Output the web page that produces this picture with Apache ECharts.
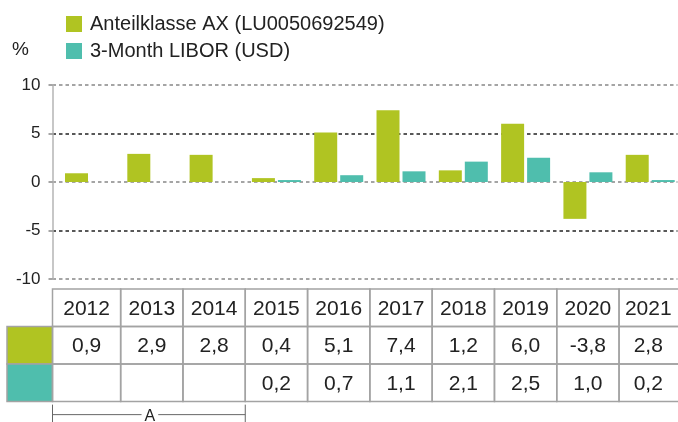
<!DOCTYPE html>
<html>
<head>
<meta charset="utf-8">
<script src="https://cdn.jsdelivr.net/npm/echarts@6/dist/echarts.min.js"></script>
<style>
html,body{margin:0;padding:0;background:#fff;}
#chart{width:678px;height:422px;}
</style>
</head>
<body>
<div id="chart"></div>
<script>
// ---- data ----
const years = ['2012','2013','2014','2015','2016','2017','2018','2019','2020','2021'];
const fundValues = [0.9, 2.9, 2.8, 0.4, 5.1, 7.4, 1.2, 6.0, -3.8, 2.8];
const liborValues = [null, null, null, 0.2, 0.7, 1.1, 2.1, 2.5, 1.0, 0.2];
const seriesNames = ['Anteilklasse AX (LU0050692549)', '3-Month LIBOR (USD)'];
const unitLabel = '%';
const bracketLabel = 'A';
const bracketCols = [0, 2];

// ---- styles ----
const colors = ['#b0c422', '#4fbead'];
const textColor = '#222';
const borderColor = '#a3a3a3';
const font = 'Liberation Sans, Arial, Helvetica, sans-serif';

const fmt = v => (v === null || v === undefined) ? '' : v.toFixed(1).replace('.', ',');

// table cells: [col, row]
const cells = [];
years.forEach((y, i) => cells.push({ value: [i, 0], text: y }));
fundValues.forEach((v, i) => cells.push({ value: [i, 1], text: fmt(v) }));
liborValues.forEach((v, i) => cells.push({ value: [i, 2], text: fmt(v) }));
const bracketItem = { value: [bracketCols[0], 3], text: bracketLabel, bracket: true };
cells.push(bracketItem);

const chart = echarts.init(document.getElementById('chart'), null, { renderer: 'canvas' });

const xMin = -0.594, xMax = 9.438;

const option = {
  animation: false,
  textStyle: { fontFamily: font },
  title: {
    text: unitLabel, left: 12, top: 40, padding: 0,
    textStyle: { fontSize: 19, fontWeight: 'normal', color: textColor, fontFamily: font }
  },
  legend: {
    orient: 'vertical',
    left: 61,
    top: 9,
    itemWidth: 16,
    itemHeight: 16,
    itemGap: 7,
    icon: 'rect',
    textStyle: { fontSize: 20, color: textColor, fontFamily: font, padding: [0, 0, 0, 3] },
    data: seriesNames
  },
  grid: [
    { left: 52.5, right: 0.5, top: 85, height: 194 },
    { left: 52.5, right: 0.5, top: 289, height: 112.5 }
  ],
  xAxis: [
    { type: 'value', gridIndex: 0, min: xMin, max: xMax, show: false },
    { type: 'value', gridIndex: 1, min: xMin, max: xMax, show: false }
  ],
  yAxis: [
    {
      type: 'value', gridIndex: 0, min: -10, max: 10, interval: 5,
      axisLine: { show: true, onZero: false, lineStyle: { color: '#b5b5b5', width: 1.5 } },
      axisTick: { show: true, length: 4, lineStyle: { color: '#888', width: 1.5 } },
      axisLabel: { fontSize: 17, color: textColor, margin: 12, fontFamily: font },
      splitLine: { show: true, lineStyle: { color: ['#888', '#222'], type: [3.5, 3], width: 1.5 } }
    },
    { type: 'value', gridIndex: 1, min: 0, max: 3, inverse: true, show: false }
  ],
  series: [
    {
      name: seriesNames[0], type: 'bar', xAxisIndex: 0, yAxisIndex: 0,
      barWidth: 23, barGap: '13%',
      itemStyle: { color: colors[0] },
      data: fundValues.map((v, i) => [i, v]).filter(d => d[1] !== null)
    },
    {
      name: seriesNames[1], type: 'bar', xAxisIndex: 0, yAxisIndex: 0,
      barWidth: 23, barGap: '13%',
      itemStyle: { color: colors[1] },
      data: liborValues.map((v, i) => [i, v]).filter(d => d[1] !== null)
    },
    {
      type: 'custom', xAxisIndex: 1, yAxisIndex: 1, silent: true, clip: false,
      data: cells,
      renderItem: function (params, api) {
        const item = cells[params.dataIndex];
        const cs = params.coordSys;
        const col = api.value(0), row = api.value(1);
        if (item.bracket) {
          const xa = cs.x;
          const xb = api.coord([bracketCols[1] + 0.5, row])[0];
          const yb = api.coord([0, row + 0.35])[1];
          const xm = (xa + xb) / 2;
          return {
            type: 'group',
            children: [
              { type: 'line', shape: { x1: xa, y1: yb, x2: xb, y2: yb }, style: { stroke: '#666', lineWidth: 1 } },
              { type: 'line', shape: { x1: xa, y1: yb - 10, x2: xa, y2: yb + 10 }, style: { stroke: '#666', lineWidth: 1 } },
              { type: 'line', shape: { x1: xb, y1: yb - 10, x2: xb, y2: yb + 10 }, style: { stroke: '#666', lineWidth: 1 } },
              { type: 'text', style: { text: item.text, x: xm + 1, y: yb + 2, align: 'center', verticalAlign: 'middle', fontSize: 16, fill: textColor, fontFamily: font, backgroundColor: '#fff', padding: [0, 3] } }
            ]
          };
        }
        let x0 = api.coord([col - 0.5, row])[0];
        let x1 = api.coord([col + 0.5, row])[0];
        if (col === 0) x0 = cs.x;
        const y0 = api.coord([0, row])[1];
        const y1 = api.coord([0, row + 1])[1];
        const tx = (x0 + Math.min(x1, cs.x + cs.width)) / 2;
        const children = [
          { type: 'rect', shape: { x: x0, y: y0, width: x1 - x0, height: y1 - y0 }, style: { fill: 'none', stroke: borderColor, lineWidth: 1.5 } },
          { type: 'text', style: { text: item.text, x: tx, y: (y0 + y1) / 2 + 1, align: 'center', verticalAlign: 'middle', fontSize: 21, fill: textColor, fontFamily: font } }
        ];
        if (col === 0 && row > 0) {
          children.unshift({ type: 'rect', shape: { x: 7, y: y0, width: x0 - 7, height: y1 - y0 }, style: { fill: colors[row - 1], stroke: borderColor, lineWidth: 1.5 } });
        }
        return { type: 'group', children: children };
      }
    }
  ]
};
chart.setOption(option);
</script>
</body>
</html>
